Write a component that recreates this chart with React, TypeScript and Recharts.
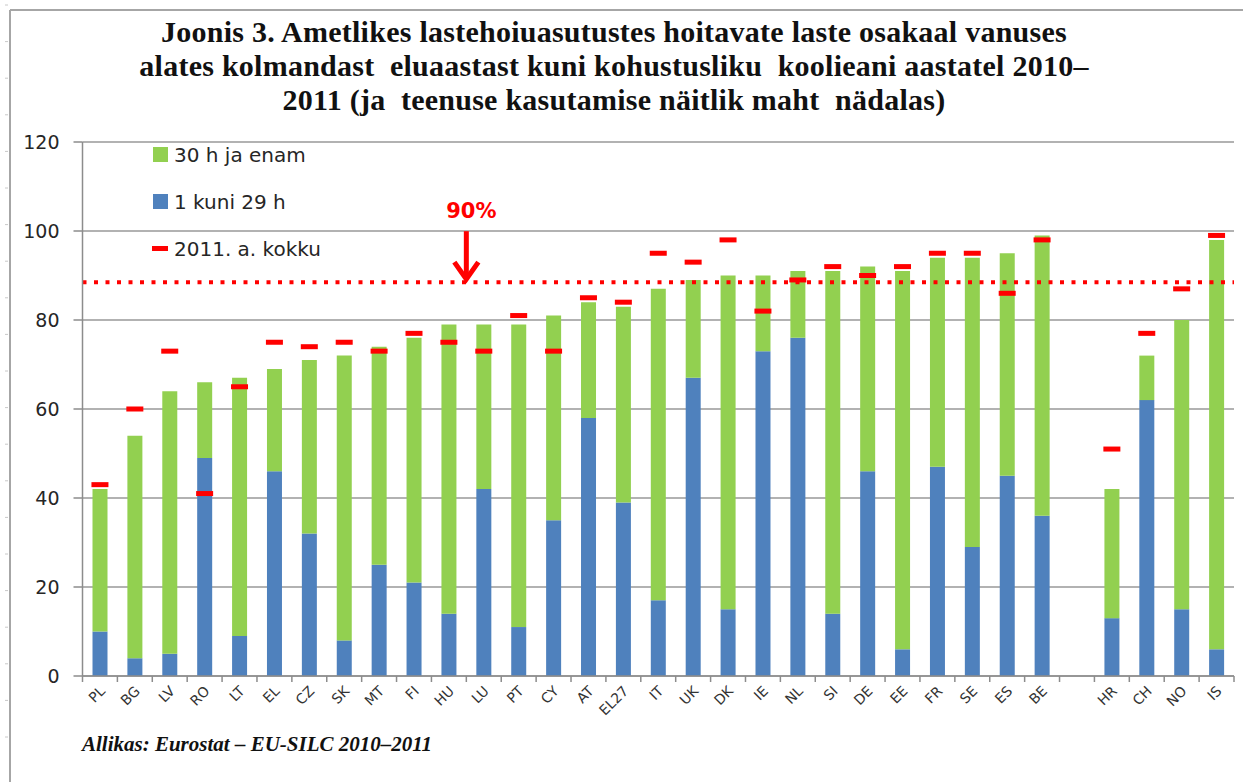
import React from 'react'
import {
  ComposedChart,
  Bar,
  Scatter,
  XAxis,
  YAxis,
  CartesianGrid,
  ReferenceLine,
  ReferenceDot,
  Legend,
} from 'recharts'

const countries = [
  'PL', 'BG', 'LV', 'RO', 'LT', 'EL', 'CZ', 'SK', 'MT', 'FI', 'HU', 'LU', 'PT', 'CY',
  'AT', 'EL27', 'IT', 'UK', 'DK', 'IE', 'NL', 'SI', 'DE', 'EE', 'FR', 'SE', 'ES', 'BE',
  '', 'HR', 'CH', 'NO', 'IS',
]
// total share in childcare 2010 (%)
const totalPct = [
  42, 54, 64, 66, 67, 69, 71, 72, 74, 76, 79, 79, 79, 81,
  84, 83, 87, 89, 90, 90, 91, 91, 92, 91, 94, 94, 95, 99,
  null, 42, 72, 80, 98,
]
// 1 to 29 hours per week
const part1to29 = [
  10, 4, 5, 49, 9, 46, 32, 8, 25, 21, 14, 42, 11, 35,
  58, 39, 17, 67, 15, 73, 76, 14, 46, 6, 47, 29, 45, 36,
  null, 13, 62, 15, 6,
]
// 2011 total
const total2011 = [
  43, 60, 73, 41, 65, 75, 74, 75, 73, 77, 75, 73, 81, 73,
  85, 84, 95, 93, 98, 82, 89, 92, 90, 92, 95, 95, 86, 98,
  null, 51, 77, 87, 99,
]
const yTicks = [0, 20, 40, 60, 80, 100, 120]
const targetLine = 88.5

const data = countries.map((c, i) => ({
  name: c,
  short: part1to29[i],
  long: totalPct[i] == null ? null : (totalPct[i] as number) - (part1to29[i] as number),
  y2011: total2011[i],
}))

const W = 1243
const H = 782
const PLOT_LEFT = 82.5
const PLOT_RIGHT = 9
const SLOT = (W - PLOT_LEFT - PLOT_RIGHT) / countries.length

const GREEN = '#92D050'
const BLUE = '#4F81BD'
const RED = '#FF0000'
const AXIS = '#8c8c8c'
const TEXT = '#262626'
const SANS = '"DejaVu Sans", Verdana, sans-serif'
const SERIF = '"Liberation Serif", "Times New Roman", serif'

// Excel-style ticks sit between categories; labels slanted at 45°
function CountryTick(props: any) {
  const { x, y, payload, index } = props
  const half = SLOT / 2
  const bx = Number(x)
  const by = Number(y)
  return (
    <g>
      <line x1={bx - half} x2={bx - half} y1={by} y2={by + 6} stroke={AXIS} strokeWidth={1.5} />
      {index === countries.length - 1 && (
        <line x1={bx + half} x2={bx + half} y1={by} y2={by + 6} stroke={AXIS} strokeWidth={1.5} />
      )}
      <g transform={`translate(${bx + 6}, ${by + 16}) rotate(-45)`}>
        <text x={0} y={0} textAnchor="end" fontSize={14} fontFamily={SANS} fill="#333">
          {payload.value}
        </text>
      </g>
    </g>
  )
}

function Dash(props: any) {
  const { cx, cy } = props
  if (cx == null || cy == null || isNaN(cy)) return <g />
  return <rect x={cx - 8.5} y={cy - 2.5} width={17} height={5} fill={RED} />
}

function TargetArrow(props: any) {
  const { cx, cy } = props
  if (cx == null || cy == null) return <g />
  const ax = cx + SLOT / 2
  return (
    <g>
      <text x={ax + 5} y={cy - 64} textAnchor="middle" fontSize={21} fontWeight="bold" fontFamily={SANS} fill={RED}>
        90%
      </text>
      <line x1={ax} x2={ax} y1={cy - 51} y2={cy - 3} stroke={RED} strokeWidth={5} />
      <polyline
        points={`${ax - 12},${cy - 20} ${ax},${cy - 3} ${ax + 12},${cy - 20}`}
        fill="none"
        stroke={RED}
        strokeWidth={5}
      />
    </g>
  )
}

const legendItems = [
  { label: '30 h ja enam', kind: 'box', color: GREEN },
  { label: '1 kuni 29 h', kind: 'box', color: BLUE },
  { label: '2011. a. kokku', kind: 'dash', color: RED },
]

function LegendBox() {
  return (
    <div>
      {legendItems.map((it) => (
        <div key={it.label} style={{ height: 47, display: 'flex', alignItems: 'center' }}>
          <div style={{ width: 16, display: 'flex', justifyContent: 'center' }}>
            <div
              style={{
                width: it.kind === 'box' ? 15 : 17,
                height: it.kind === 'box' ? 15 : 5,
                background: it.color,
              }}
            />
          </div>
          <span style={{ marginLeft: 6, fontSize: 20, fontFamily: SANS, color: TEXT, whiteSpace: 'pre' }}>
            {it.label}
          </span>
        </div>
      ))}
    </div>
  )
}

export default function App() {
  const rulerTicks = Array.from({ length: 21 }, (_, i) => 5 + i * 36.6)
  return (
    <div style={{ position: 'absolute', left: 0, top: 0, width: W, height: H, background: '#fff', overflow: 'hidden' }}>
      {/* page frame */}
      <svg width={W} height={H} style={{ position: 'absolute', left: 0, top: 0 }}>
        <line x1={10} x2={W} y1={10} y2={10} stroke="#a6a6a6" strokeWidth={2} />
        <line x1={10} x2={10} y1={10} y2={H} stroke="#a6a6a6" strokeWidth={2} />
        {rulerTicks.map((t) => (
          <line key={t} x1={5} x2={8} y1={t} y2={t} stroke="#c8c8c8" strokeWidth={1} />
        ))}
      </svg>

      <div
        style={{
          position: 'absolute',
          left: 0,
          top: 15,
          width: 1228,
          textAlign: 'center',
          fontFamily: SERIF,
          fontWeight: 'bold',
          fontSize: 30,
          letterSpacing: 0.25,
          lineHeight: '34px',
          color: '#111',
          whiteSpace: 'pre',
        }}
      >
        <div>Joonis 3. Ametlikes lastehoiuasutustes hoitavate laste osakaal vanuses</div>
        <div>alates kolmandast  eluaastast kuni kohustusliku  koolieani aastatel 2010–</div>
        <div>2011 (ja  teenuse kasutamise näitlik maht  nädalas)</div>
      </div>

      <div style={{ position: 'absolute', left: 0, top: 0 }}>
        <ComposedChart
          width={W}
          height={H}
          data={data}
          margin={{ top: 142, right: PLOT_RIGHT, bottom: 0, left: 0 }}
          barSize={15}
        >
          <CartesianGrid vertical={false} stroke="#999" strokeWidth={1.5} />
          <XAxis
            dataKey="name"
            height={106}
            tick={CountryTick}
            tickLine={false}
            tickSize={0}
            tickMargin={0}
            interval={0}
            axisLine={{ stroke: AXIS, strokeWidth: 1.5 }}
          />
          <YAxis
            width={PLOT_LEFT}
            domain={[0, 120]}
            ticks={yTicks}
            interval={0}
            tickSize={9}
            tickMargin={14}
            tickLine={{ stroke: AXIS, strokeWidth: 1.5 }}
            axisLine={{ stroke: AXIS, strokeWidth: 1.5 }}
            tick={{ fontSize: 19, fontFamily: SANS, fill: TEXT }}
          />
          <Legend
            layout="vertical"
            align="center"
            verticalAlign="middle"
            wrapperStyle={{ left: 152, top: 131, width: 260 }}
            content={() => <LegendBox />}
          />
          <Bar dataKey="short" stackId="a" fill={BLUE} isAnimationActive={false} />
          <Bar dataKey="long" stackId="a" fill={GREEN} isAnimationActive={false} />
          <ReferenceLine y={targetLine} stroke={RED} strokeWidth={4} strokeDasharray="4 7.5" />
          <Scatter dataKey="y2011" shape={<Dash />} isAnimationActive={false} />
          <ReferenceDot x="HU" y={targetLine} r={0} shape={<TargetArrow />} />
        </ComposedChart>
      </div>

      <div
        style={{
          position: 'absolute',
          left: 82,
          top: 733,
          fontFamily: SERIF,
          fontWeight: 'bold',
          fontStyle: 'italic',
          fontSize: 21,
          lineHeight: '22px',
          color: '#111',
        }}
      >
        Allikas: Eurostat – EU-SILC 2010–2011
      </div>
    </div>
  )
}
